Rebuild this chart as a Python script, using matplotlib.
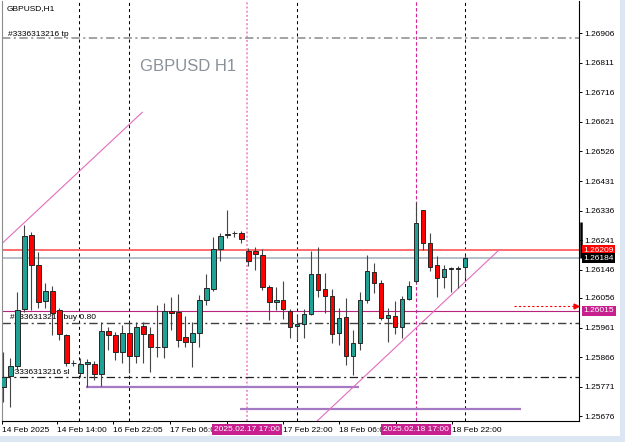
import matplotlib
matplotlib.use("Agg")
import matplotlib.pyplot as plt
from matplotlib.patches import Rectangle
import numpy as np

plt.rcParams['font.family'] = ['Liberation Sans', 'DejaVu Sans']
plt.rcParams['lines.scale_dashes'] = False

# GBPUSD H1 candles, 14 Feb 2025 -> 18 Feb 2025
opens = [1.25769, 1.25805, 1.25837, 1.26021, 1.26258, 1.26161, 1.26046, 1.26078, 1.26018, 1.25937,
         1.25847, 1.25815, 1.25844, 1.25844, 1.25811, 1.25949, 1.25937, 1.25882, 1.25943, 1.25869,
         1.25966, 1.25940, 1.25898, 1.25898, 1.26014, 1.26011, 1.25930, 1.25914, 1.25943, 1.26049,
         1.26085, 1.26213, 1.26258, 1.26264, 1.26264, 1.26206, 1.26206, 1.26193, 1.26091, 1.26043,
         1.26049, 1.26014, 1.25966, 1.25972, 1.26005, 1.26132, 1.26085, 1.26062, 1.25943, 1.25995,
         1.25869, 1.25911, 1.26049, 1.26139, 1.26104, 1.25992, 1.25998, 1.25962, 1.26052, 1.26110,
         1.26338, 1.26232, 1.26161, 1.26123, 1.26149, 1.26149, 1.26155]
highs = [1.25882, 1.25863, 1.26075, 1.26290, 1.26267, 1.26203, 1.26104, 1.26094, 1.26025, 1.25940,
         1.25856, 1.25863, 1.25860, 1.25853, 1.25978, 1.25962, 1.25946, 1.25969, 1.25978, 1.25978,
         1.25978, 1.25962, 1.26033, 1.26040, 1.26059, 1.26068, 1.25998, 1.25978, 1.26065, 1.26132,
         1.26251, 1.26264, 1.26338, 1.26271, 1.26271, 1.26216, 1.26219, 1.26213, 1.26097, 1.26091,
         1.26110, 1.26021, 1.26001, 1.26021, 1.26206, 1.26219, 1.26136, 1.26085, 1.26025, 1.26056,
         1.25953, 1.26075, 1.26193, 1.26168, 1.26114, 1.26025, 1.26046, 1.26062, 1.26110, 1.26364,
         1.26338, 1.26264, 1.26190, 1.26161, 1.26155, 1.26158, 1.26193]
lows = [1.25722, 1.25707, 1.25824, 1.26011, 1.26018, 1.26025, 1.26025, 1.25937, 1.25921, 1.25837,
        1.25837, 1.25802, 1.25769, 1.25792, 1.25773, 1.25889, 1.25856, 1.25847, 1.25815, 1.25847,
        1.25847, 1.25818, 1.25866, 1.25863, 1.25953, 1.25898, 1.25898, 1.25834, 1.25898, 1.26033,
        1.26078, 1.26174, 1.26248, 1.26251, 1.26232, 1.26158, 1.26145, 1.26081, 1.25985, 1.26018,
        1.25988, 1.25927, 1.25921, 1.25927, 1.26001, 1.26059, 1.26008, 1.25911, 1.25905, 1.25841,
        1.25808, 1.25889, 1.26040, 1.26072, 1.25985, 1.25914, 1.25940, 1.25927, 1.26049, 1.26104,
        1.26210, 1.26142, 1.26059, 1.26088, 1.26075, 1.26088, 1.26120]
closes = [1.25802, 1.25837, 1.26018, 1.26254, 1.26161, 1.26043, 1.26078, 1.26008, 1.25940, 1.25847,
          1.25847, 1.25844, 1.25850, 1.25811, 1.25949, 1.25937, 1.25882, 1.25943, 1.25869, 1.25962,
          1.25940, 1.25898, 1.25898, 1.26014, 1.26008, 1.25921, 1.25914, 1.25943, 1.26049, 1.26088,
          1.26213, 1.26254, 1.26261, 1.26264, 1.26245, 1.26174, 1.26197, 1.26091, 1.26043, 1.26049,
          1.26021, 1.25962, 1.25972, 1.26005, 1.26132, 1.26081, 1.26062, 1.25940, 1.25992, 1.25869,
          1.25911, 1.26049, 1.26142, 1.26104, 1.25992, 1.26001, 1.25962, 1.26052, 1.26094, 1.26296,
          1.26232, 1.26155, 1.26120, 1.26149, 1.26149, 1.26152, 1.26184]

price_ticks = [1.26906, 1.26811, 1.26716, 1.26621, 1.26526, 1.26431, 1.26336, 1.26241,
               1.26146, 1.26056, 1.25961, 1.25866, 1.25771, 1.25676]
time_ticks = [-0.2, 7.7, 15.7, 23.85, 32.0, 40.0, 48.0, 56.15, 64.15]
# labels at 32.0 and 56.15 sit under the marker boxes, so they are left blank
time_labels = ['14 Feb 2025', '14 Feb 14:00', '16 Feb 22:05', '17 Feb 06:00', '',
               '17 Feb 22:00', '18 Feb 06:00', '', '18 Feb 22:00']

ticket = '#3336313216'
tp_level = 1.26890
entry_level = 1.25975
sl_level = 1.25802
ask_price = 1.26209
bid_price = 1.26184
alert_level = 1.26015
alert_arrow_y = 1.26030
range_bar = [1.26300, 1.26184]
support_a = (11.86, 50.86, 1.25770)
support_b = (33.86, 74.0, 1.25699)
trend_a = ([-0.14, 19.86], [1.26232, 1.26652])
trend_b = ([44.86, 70.86], [1.25661, 1.26210])
grid_x = [10.86, 18.0, 42.0, 66.0]
marker_a = (34.86, '2025.02.17 17:00')
marker_b = (59.0, '2025.02.18 17:00')

fig = plt.figure(figsize=(6.25, 4.42), dpi=100)
fig.patch.set_facecolor('white')
ax = fig.add_axes([2 / 625, 21 / 442, 577 / 625, 420 / 442])
ax.set_xlim(-0.143, 82.29)
ax.set_ylim(1.25661, 1.27009)

# strips at window edge
fig.patches.append(Rectangle((0, 0), 1, 6 / 442, transform=fig.transFigure,
                             facecolor='#dde7f3', edgecolor='none'))
fig.patches.append(Rectangle((620 / 625, 0), 5 / 625, 1, transform=fig.transFigure,
                             facecolor='#dde7f3', edgecolor='none'))

dashdot = (0, (6, 2.5, 1.5, 2.5))
# grid verticals
for gx in grid_x:
    ax.axvline(gx, color='black', lw=0.75, ls=(0, (2.2, 2.2)), zorder=1)
ax.axvline(marker_a[0], color='#ec8fcb', lw=1.3, ls=(0, (1.4, 1.6)), zorder=1)
ax.axvline(marker_b[0], color='#d4239a', lw=0.8, ls=(0, (2.5, 1.6)), zorder=1)

# horizontal levels
ax.axhline(tp_level, color='#8a8a8a', lw=1.1, ls=dashdot, zorder=1)
ax.axhline(entry_level, color='#404040', lw=1.0, ls=dashdot, zorder=1)
ax.axhline(sl_level, color='#202020', lw=0.9, ls=dashdot, zorder=1)
ax.axhline(ask_price, color='#ff6b6b', lw=1.4, zorder=1)
ax.axhline(bid_price, color='#9fadbd', lw=1.1, zorder=1)
ax.axhline(alert_level, color='#b8237e', lw=0.8, zorder=1)
ax.hlines(support_a[2], support_a[0], support_a[1], color='#a57ac4', lw=1.6, zorder=1)
ax.hlines(support_b[2], support_b[0], support_b[1], color='#a57ac4', lw=1.6, zorder=1)
ax.plot(*trend_a, color='#e46cbc', lw=0.8, zorder=2)
ax.plot(*trend_b, color='#e46cbc', lw=0.8, zorder=2)
ax.plot([73.0, 81.7], [alert_arrow_y] * 2, color='red', lw=0.8, ls=(0, (1.6, 1.6)), zorder=2)
ax.plot([81.9], [alert_arrow_y], marker='>', ms=3.5, color='red', clip_on=False, zorder=2)

# object labels
ax.text(0.0087, 0.981, 'GBPUSD,H1', transform=ax.transAxes, fontsize=6, va='center', ha='left')
ax.text(0.239, 0.845, 'GBPUSD H1', transform=ax.transAxes, fontsize=12, color='#8a9198',
        va='center', ha='left')
ax.text(0.7, 1.26903, ticket + ' tp', fontsize=6, va='center', ha='left', zorder=1)
ax.text(1.0, 1.25992, ticket + ' buy 0.80', fontsize=6, va='center', ha='left', zorder=1)
ax.text(1.0, 1.25818, ticket + ' sl', fontsize=6, va='center', ha='left', zorder=1)

# candles
x = np.arange(len(opens))
o = np.array(opens)
c = np.array(closes)
up = c >= o
ax.vlines(x, lows, highs, color='#454545', lw=0.8, zorder=3)
lo = np.minimum(o, c)
hh = np.maximum(np.abs(c - o), 0.000015)
ax.bar(x[up], hh[up], bottom=lo[up], width=0.66, color='#1fa195', edgecolor='#262626',
       lw=0.7, zorder=4)
ax.bar(x[~up], hh[~up], bottom=lo[~up], width=0.66, color='#ff0000', edgecolor='#262626',
       lw=0.7, zorder=4)

# axes styling
ax.spines['top'].set_visible(False)
ax.spines['left'].set_color('#8c8c8c')
ax.spines['right'].set_color('black')
ax.spines['bottom'].set_color('black')
for s in ax.spines.values():
    s.set_linewidth(0.8)

ax.yaxis.tick_right()
ax.set_yticks(price_ticks)
ax.set_yticklabels([f'{p:.5f}' for p in price_ticks])
ax.tick_params(axis='y', direction='out', length=2.5, width=0.7, pad=1.5, labelsize=6)
ax.set_xticks(time_ticks)
ax.set_xticklabels(time_labels)
ax.tick_params(axis='x', direction='out', length=2.5, width=0.7, pad=2, labelsize=6)
for lab in ax.get_xticklabels():
    lab.set_horizontalalignment('left')

# current price boxes on the price scale
ax.plot([1.003, 1.003], range_bar, color='black', lw=1.8, solid_capstyle='butt',
        transform=ax.get_yaxis_transform(), clip_on=False, zorder=5)
for price, bg in [(ask_price, '#ff0000'), (bid_price, '#000000'), (alert_level, '#c71f8e')]:
    ax.annotate(f'{price:.5f}', xy=(1.0, price), xycoords=('axes fraction', 'data'),
                xytext=(3.2, 0), textcoords='offset points', fontsize=6, color='white',
                va='center', ha='left', annotation_clip=False, zorder=6,
                bbox=dict(boxstyle='square,pad=0.2', fc=bg, ec='none'))

# time markers on the time scale
for mx, label in [marker_a, marker_b]:
    ax.annotate(label, xy=(mx, 0), xycoords=('data', 'axes fraction'),
                xytext=(0, -6), textcoords='offset points', fontsize=6, color='white',
                va='center', ha='center', annotation_clip=False, zorder=6,
                bbox=dict(boxstyle='square,pad=0.25', fc='#c71f8e', ec='none'))

fig.savefig('out.png', dpi=100)
